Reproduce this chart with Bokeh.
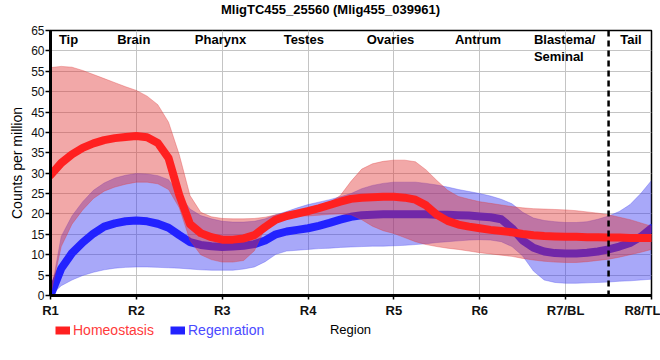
from bokeh.plotting import figure
from bokeh.layouts import column
from bokeh.models import ColumnDataSource, FixedTicker, Span, Legend, LegendItem, Range1d
from bokeh.core.properties import value
from bokeh.embed import file_html
from bokeh.resources import INLINE

# ---- data ----
title_text = "MligTC455_25560 (Mlig455_039961)"
regions = ["R1", "R2", "R3", "R4", "R5", "R6", "R7/BL", "R8/TL"]
tissues = ["Tip", "Brain", "Pharynx", "Testes", "Ovaries", "Antrum", "Blastema/\nSeminal", "Tail"]
series_names = ["Homeostasis", "Regenration"]

# position along the body axis (0 = R1 ... 7 = R8), sampled every 1/8 region
pos = [0.0, 0.125, 0.25, 0.375, 0.5, 0.625, 0.75, 0.875,
       1.0, 1.125, 1.25, 1.375, 1.5, 1.625, 1.75, 1.875,
       2.0, 2.125, 2.25, 2.375, 2.5, 2.625, 2.75, 2.875,
       3.0, 3.125, 3.25, 3.375, 3.5, 3.625, 3.75, 3.875,
       4.0, 4.125, 4.25, 4.375, 4.5, 4.625, 4.75, 4.875,
       5.0, 5.125, 5.25, 5.375, 5.5, 5.625, 5.75, 5.875,
       6.0, 6.125, 6.25, 6.375, 6.5, 6.625, 6.75, 6.875, 7.0]

homeo_mean = [29.5, 32.5, 34.6, 36.2, 37.3, 38.1, 38.6, 38.9,
              39.1, 38.8, 37.4, 33.7, 24.6, 17.5, 15.3, 14.3,
              13.7, 13.7, 14.0, 14.8, 16.8, 18.6, 19.5, 20.1,
              20.7, 21.4, 22.2, 23.0, 23.7, 24.0, 24.1, 24.2,
              24.2, 24.0, 23.5, 22.1, 19.8, 18.3, 17.4, 16.9,
              16.5, 16.1, 15.8, 15.5, 15.1, 14.8, 14.6, 14.5,
              14.4, 14.4, 14.3, 14.3, 14.2, 14.2, 14.1, 14.1, 14.1]
homeo_upper = [55.9, 56.2, 56.0, 55.2, 54.2, 53.2, 52.2, 51.2,
               50.3, 48.9, 46.8, 42.5, 34.5, 24.5, 20.4, 19.3,
               18.9, 18.8, 18.8, 18.9, 19.2, 19.8, 20.4, 21.0,
               21.6, 22.1, 22.8, 24.5, 28.0, 31.0, 32.3, 32.9,
               33.2, 33.2, 32.8, 30.8, 28.2, 25.8, 24.3, 23.6,
               23.0, 22.6, 22.2, 21.8, 21.5, 21.3, 21.2, 21.1,
               21.0, 20.8, 20.5, 20.2, 19.8, 19.2, 18.6, 17.8, 17.0]
homeo_lower = [0.0, 12.0, 17.5, 21.0, 23.8, 25.6, 26.6, 27.3,
               27.8, 27.8, 27.4, 26.0, 21.5, 13.5, 10.0, 8.8,
               8.2, 8.2, 8.6, 11.0, 16.5, 19.0, 19.4, 19.5,
               19.5, 19.7, 19.9, 20.0, 19.8, 18.6, 17.0, 15.9,
               15.2, 14.2, 13.2, 12.5, 12.0, 11.6, 11.3, 10.9,
               10.5, 10.2, 9.9, 9.6, 9.1, 8.7, 8.4, 8.2,
               8.1, 8.1, 8.3, 8.6, 8.9, 9.4, 10.0, 10.6, 11.3]

regen_mean = [0.0, 6.6, 10.4, 13.0, 15.2, 16.9, 17.7, 18.2,
              18.4, 18.2, 17.6, 16.6, 14.8, 13.1, 12.4, 12.1,
              11.9, 12.0, 12.2, 12.6, 13.5, 15.0, 15.7, 16.1,
              16.5, 17.1, 17.8, 18.6, 19.3, 19.7, 19.8, 19.9,
              19.9, 19.9, 19.9, 19.9, 19.8, 19.8, 19.7, 19.6,
              19.4, 19.2, 18.7, 16.5, 13.5, 11.7, 10.8, 10.4,
              10.3, 10.3, 10.5, 10.8, 11.3, 12.0, 12.9, 14.4, 16.5]
regen_upper = [0.0, 14.5, 19.5, 23.0, 25.8, 27.6, 28.8, 29.5,
               29.9, 29.8, 29.4, 28.4, 24.8, 21.2, 19.6, 18.8,
               18.2, 18.0, 18.0, 18.2, 18.8, 19.8, 20.6, 21.5,
               22.3, 22.9, 23.5, 24.2, 25.0, 26.2, 27.0, 27.5,
               27.8, 27.8, 27.8, 27.5, 27.1, 26.6, 26.0, 25.5,
               25.0, 24.4, 23.6, 22.5, 20.4, 19.0, 18.4, 18.1,
               17.9, 17.9, 18.1, 18.7, 19.5, 20.6, 22.3, 25.0, 28.2]
regen_lower = [0.0, 2.4, 3.8, 4.9, 5.7, 6.3, 6.7, 6.9,
               7.0, 7.0, 6.9, 6.8, 6.7, 6.5, 6.3, 6.2,
               6.2, 6.2, 6.5, 7.0, 8.3, 10.1, 10.9, 11.1,
               11.3, 11.5, 11.6, 11.8, 11.9, 12.0, 12.1, 12.1,
               12.2, 12.3, 12.5, 12.7, 13.0, 13.2, 13.4, 13.6,
               13.7, 13.6, 13.2, 12.0, 9.7, 6.0, 3.8, 3.2,
               3.0, 3.0, 3.1, 3.2, 3.3, 3.5, 3.6, 3.8, 4.0]

# ---- layout / style ----
tissue_x = [0.21, 0.97, 1.98, 2.95, 3.96, 4.98, 5.63, 6.76]
tissue_align = ["center", "center", "center", "center", "center", "center", "left", "center"]
boundary = 6.5
FONT = "Liberation Sans"
RED = "#ff2020"
BLUE = "#2222ff"
W = 660
LEFT, RIGHT = 50, 9


def strip(height):
    """A blank figure whose x data units equal page pixels, aligned with the chart frame."""
    f = figure(width=W, height=height, x_range=Range1d(LEFT, W - RIGHT),
               y_range=Range1d(0, height), output_backend="svg", toolbar_location=None,
               min_border_left=LEFT, min_border_right=RIGHT, min_border_top=0,
               min_border_bottom=0, x_axis_location=None, y_axis_location=None)
    f.grid.visible = False
    f.outline_line_color = None
    f.background_fill_color = "white"
    f.border_fill_color = "white"
    return f


# ---- title strip ----
t = strip(20)
t.text(x=[W / 2], y=[11], text=[title_text], text_align="center",
       text_baseline="middle", text_font=value(FONT), text_font_size="13px",
       text_font_style="bold", text_color="#000000")

# ---- main chart ----
src = ColumnDataSource(dict(x=pos, hm=homeo_mean, hu=homeo_upper, hl=homeo_lower,
                            rm=regen_mean, ru=regen_upper, rl=regen_lower))

p = figure(width=W, height=300, x_range=(0, 7), y_range=(0, 65),
           output_backend="svg", toolbar_location=None,
           min_border_left=LEFT, min_border_right=RIGHT, min_border_top=10, min_border_bottom=21)

# bands and lines: regeneration first, homeostasis on top
p.varea(x="x", y1="rl", y2="ru", source=src, fill_color="#3030f0", fill_alpha=0.42)
p.line(x="x", y="ru", source=src, line_color="#5050f0", line_alpha=0.35, line_width=1)
p.line(x="x", y="rl", source=src, line_color="#5050f0", line_alpha=0.35, line_width=1)
p.line(x="x", y="rm", source=src, line_color=BLUE, line_width=8,
       line_join="round", line_cap="round")

p.varea(x="x", y1="hl", y2="hu", source=src, fill_color="#e03030", fill_alpha=0.42)
p.line(x="x", y="hu", source=src, line_color="#e04040", line_alpha=0.35, line_width=1)
p.line(x="x", y="hl", source=src, line_color="#e04040", line_alpha=0.35, line_width=1)
p.line(x="x", y="hm", source=src, line_color=RED, line_width=8,
       line_join="round", line_cap="round")

# tissue names along the top
tsrc = ColumnDataSource(dict(x=tissue_x, y=[64.6] * len(tissues), t=tissues, a=tissue_align))
p.text(x="x", y="y", text="t", source=tsrc, text_align="a", text_baseline="top",
       text_font=value(FONT), text_font_size="13px", text_font_style="bold",
       text_color="#000000", text_line_height=1.15)

p.add_layout(Span(location=boundary, dimension="height", line_color="black",
                  line_width=2.5, line_dash="6 4"))

# axes
p.xaxis.ticker = FixedTicker(ticks=list(range(len(regions))))
p.xaxis.major_label_overrides = {i: r for i, r in enumerate(regions)}
p.yaxis.ticker = FixedTicker(ticks=list(range(0, 66, 5)))
p.yaxis.axis_label = "Counts per million"
for ax in (p.xaxis[0], p.yaxis[0]):
    ax.axis_line_color = "black"
    ax.axis_line_width = 3
    ax.major_tick_line_color = "black"
    ax.major_tick_line_width = 1.5
    ax.minor_tick_line_color = None
    ax.major_tick_in = 0
    ax.major_label_text_font = FONT
    ax.major_label_text_color = "#111111"
p.yaxis.axis_label_text_font = FONT
p.yaxis.axis_label_text_font_style = "normal"
p.yaxis.axis_label_text_font_size = "14px"
p.yaxis.axis_label_text_color = "#000000"
p.xaxis.major_tick_out = 4
p.yaxis.major_tick_out = 5
p.xaxis.major_label_text_font_size = "13px"
p.xaxis.major_label_text_font_style = "bold"
p.yaxis.major_label_text_font_size = "12px"
p.xaxis.major_label_standoff = 3
p.yaxis.major_label_standoff = 1
p.yaxis.axis_label_standoff = 3

p.grid.grid_line_color = "#c4c4c4"
p.grid.grid_line_width = 1
p.outline_line_color = "black"
p.outline_line_width = 1.5
p.background_fill_color = "white"
p.border_fill_color = "white"

# ---- legend row with the axis title ----
q = strip(40)
nan = float("nan")
h_key = q.line(x=[nan, nan], y=[nan, nan], line_color=RED, line_width=8)
r_key = q.line(x=[nan, nan], y=[nan, nan], line_color=BLUE, line_width=8)
for item_label, rend, col, xoff in ((series_names[0], h_key, "#ff3b3b", 5),
                                    (series_names[1], r_key, "#4a4aff", 120)):
    lg = Legend(items=[LegendItem(label=item_label, renderers=[rend])],
                location=(xoff, 22), orientation="horizontal",
                background_fill_alpha=0, border_line_color=None,
                padding=0, margin=0, spacing=0,
                glyph_width=15, glyph_height=16, label_height=16, label_standoff=3,
                label_text_font=FONT, label_text_font_size="14px", label_text_color=col)
    q.add_layout(lg, "center")

q.text(x=[350], y=[31], text=["Region"], text_align="center", text_baseline="middle",
       text_font=value(FONT), text_font_size="13px", text_color="#000000")

open("out.html", "w").write(file_html(column(t, p, q), INLINE))
